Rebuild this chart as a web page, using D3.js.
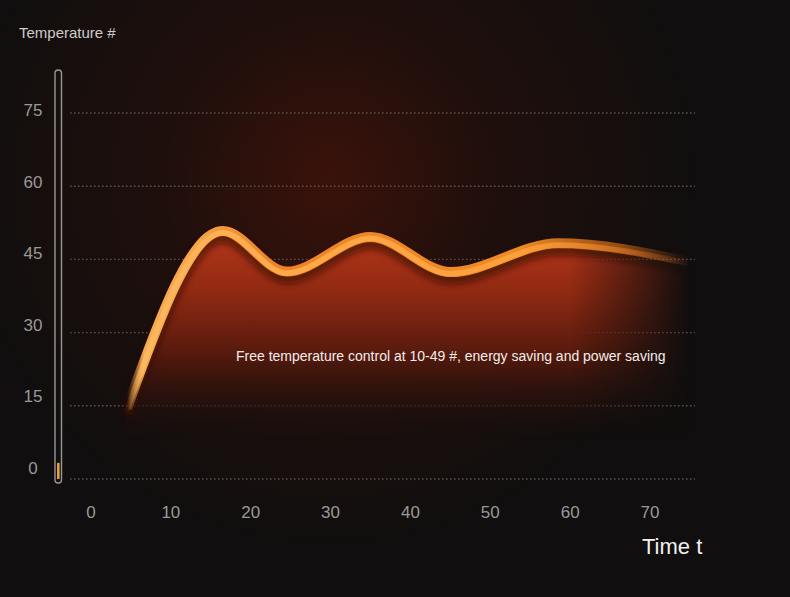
<!DOCTYPE html>
<html><head><meta charset="utf-8">
<script src="https://cdn.jsdelivr.net/npm/d3@7"></script>
<style>html,body{margin:0;padding:0;background:#100e0e;}svg{display:block;}</style>
</head><body>
<script>
const yTicks = [0, 15, 30, 45, 60, 75];
const xTicks = [0, 10, 20, 30, 40, 50, 60, 70];
const timeValues = [4.5, 16.5, 24.5, 35, 45, 58.5, 75];
const tempValues = [14.5, 50.8, 42.5, 49.6, 42.4, 48.3, 44.5];
const yTitle = "Temperature #";
const xTitle = "Time t";
const note = "Free temperature control at 10-49 #, energy saving and power saving";
const thermoValue = 3.3;

const W = 790, H = 597;
const svg = d3.select("body").append("svg").attr("width", W).attr("height", H);
const defs = svg.append("defs");

const x = d3.scaleLinear().domain([0, 70]).range([91, 650]);
const y = d3.scaleLinear().domain([0, 75]).range([479, 113]);
const yLab = d3.scaleLinear().domain([0, 75]).range([468, 110]);

// background
const bg = defs.append("radialGradient").attr("id", "bg").attr("gradientUnits", "userSpaceOnUse")
  .attr("cx", 330).attr("cy", 180).attr("r", 370);
bg.append("stop").attr("offset", 0).attr("stop-color", "#3a120a");
bg.append("stop").attr("offset", 0.45).attr("stop-color", "#1f0f0c");
bg.append("stop").attr("offset", 1).attr("stop-color", "#100e0e");
svg.append("rect").attr("width", W).attr("height", H).attr("fill", "#100e0e");
svg.append("rect").attr("width", W).attr("height", H).attr("fill", "url(#bg)");

// grid lines
svg.append("g").selectAll("line").data(yTicks).join("line")
  .attr("x1", 70).attr("x2", 695)
  .attr("y1", d => y(d)).attr("y2", d => y(d))
  .attr("stroke", "#57504d").attr("stroke-width", 1.4).attr("stroke-dasharray", "1.6,2.4");

// data
const data = timeValues.map((t, i) => ({ t, v: tempValues[i] }));
const curve = d3.curveMonotoneX;
const line = d3.line().x(d => x(d.t)).y(d => y(d.v)).curve(curve);
const area = d3.area().x(d => x(d.t)).y0(y(0)).y1(d => y(d.v)).curve(curve);

// area gradient
const ag = defs.append("linearGradient").attr("id", "ag").attr("gradientUnits", "userSpaceOnUse")
  .attr("x1", 0).attr("y1", 225).attr("x2", 0).attr("y2", 440);
ag.append("stop").attr("offset", 0).attr("stop-color", "#b8381a");
ag.append("stop").attr("offset", 0.3).attr("stop-color", "#922a12");
ag.append("stop").attr("offset", 0.6).attr("stop-color", "#561a0d");
ag.append("stop").attr("offset", 0.85).attr("stop-color", "#26110c").attr("stop-opacity", 0.6);
ag.append("stop").attr("offset", 1).attr("stop-color", "#1a0f0d").attr("stop-opacity", 0);
const mg = defs.append("linearGradient").attr("id", "mg").attr("gradientUnits", "userSpaceOnUse")
  .attr("x1", 570).attr("y1", 0).attr("x2", 690).attr("y2", 0);
mg.append("stop").attr("offset", 0).attr("stop-color", "#fff");
mg.append("stop").attr("offset", 1).attr("stop-color", "#000");
const mask = defs.append("mask").attr("id", "fadeR").attr("maskUnits", "userSpaceOnUse")
  .attr("x", 0).attr("y", 0).attr("width", W).attr("height", H);
mask.append("rect").attr("width", W).attr("height", H).attr("fill", "url(#mg)");

const blur = defs.append("filter").attr("id", "blur").attr("x", "-10%").attr("y", "-20%").attr("width", "120%").attr("height", "140%");
blur.append("feGaussianBlur").attr("stdDeviation", 3.5);

const gA = svg.append("g").attr("mask", "url(#fadeR)");
gA.append("path").datum(data).attr("d", area).attr("fill", "url(#ag)");
// shadow under line
gA.append("path").datum(data).attr("d", line).attr("fill", "none")
  .attr("stroke", "#3a0c04").attr("stroke-opacity", 0.75).attr("stroke-width", 10)
  .attr("transform", "translate(0,7)").attr("filter", "url(#blur)");

// line gradients
const lg = defs.append("linearGradient").attr("id", "lg").attr("gradientUnits", "userSpaceOnUse")
  .attr("x1", x(4.5)).attr("y1", 0).attr("x2", x(75)).attr("y2", 0);
lg.append("stop").attr("offset", 0).attr("stop-color", "#f0a050").attr("stop-opacity", 0);
lg.append("stop").attr("offset", 0.03).attr("stop-color", "#f6aa50").attr("stop-opacity", 1);
lg.append("stop").attr("offset", 0.12).attr("stop-color", "#f7a548");
lg.append("stop").attr("offset", 0.25).attr("stop-color", "#f08228");
lg.append("stop").attr("offset", 0.7).attr("stop-color", "#ef8a22").attr("stop-opacity", 1);
lg.append("stop").attr("offset", 0.88).attr("stop-color", "#e07018").attr("stop-opacity", 0.6);
lg.append("stop").attr("offset", 1).attr("stop-color", "#c06018").attr("stop-opacity", 0);
const lg2 = defs.append("linearGradient").attr("id", "lg2").attr("gradientUnits", "userSpaceOnUse")
  .attr("x1", x(4.5)).attr("y1", 0).attr("x2", x(75)).attr("y2", 0);
lg2.append("stop").attr("offset", 0).attr("stop-color", "#fcb860").attr("stop-opacity", 0);
lg2.append("stop").attr("offset", 0.03).attr("stop-color", "#fcb860").attr("stop-opacity", 1);
lg2.append("stop").attr("offset", 0.3).attr("stop-color", "#ffaa48");
lg2.append("stop").attr("offset", 0.7).attr("stop-color", "#fba23e").attr("stop-opacity", 0.9);
lg2.append("stop").attr("offset", 0.88).attr("stop-color", "#f09030").attr("stop-opacity", 0.4);
lg2.append("stop").attr("offset", 1).attr("stop-color", "#f09030").attr("stop-opacity", 0);

svg.append("path").datum(data).attr("d", line).attr("fill", "none")
  .attr("stroke", "url(#lg)").attr("stroke-width", 10).attr("stroke-linecap", "butt");
svg.append("path").datum(data).attr("d", line).attr("fill", "none")
  .attr("stroke", "url(#lg2)").attr("stroke-width", 5.5).attr("transform", "translate(0,1.6)");

// thermometer
svg.append("rect").attr("x", 55).attr("y", 70).attr("width", 6.5).attr("height", 413).attr("rx", 3.2)
  .attr("fill", "none").attr("stroke", "#9a9694").attr("stroke-width", 1.4);
svg.append("rect").attr("x", 57).attr("y", y(thermoValue)).attr("width", 2.6)
  .attr("height", y(0) - y(thermoValue)).attr("fill", "#e8a030");

// y labels
svg.append("g").selectAll("text").data(yTicks).join("text")
  .attr("x", 33).attr("y", d => yLab(d)).attr("dy", "0.35em").attr("text-anchor", "middle")
  .attr("font-family", "Liberation Sans, Arial, sans-serif").attr("font-size", 17)
  .attr("fill", "#9c9896").text(d => d);
// x labels
svg.append("g").selectAll("text").data(xTicks).join("text")
  .attr("x", d => x(d)).attr("y", 512).attr("dy", "0.35em").attr("text-anchor", "middle")
  .attr("font-family", "Liberation Sans, Arial, sans-serif").attr("font-size", 17)
  .attr("fill", "#9c9896").text(d => d);

svg.append("text").attr("x", 19).attr("y", 38).attr("font-family", "Liberation Sans, Arial, sans-serif")
  .attr("font-size", 15).attr("fill", "#cfcbc9").text(yTitle);
svg.append("text").attr("x", 642).attr("y", 554).attr("font-family", "Liberation Sans, Arial, sans-serif")
  .attr("font-size", 22).attr("fill", "#f2f0ef").text(xTitle);
svg.append("text").attr("x", 236).attr("y", 361).attr("font-family", "Liberation Sans, Arial, sans-serif")
  .attr("font-size", 14).attr("fill", "#f4ecea").text(note);
</script>
</body></html>
